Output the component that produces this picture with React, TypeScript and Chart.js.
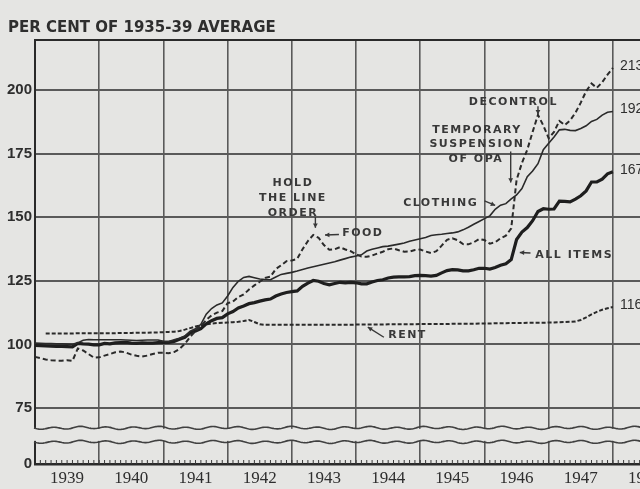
import React, { useEffect, useRef } from "react";
import { Chart, registerables } from "chart.js";

Chart.register(...registerables);

// ---------- data ----------
const YEARS = [1939, 1940, 1941, 1942, 1943, 1944, 1945, 1946, 1947, 1948];
const MONTH_COUNT = 115; // Jan 1939 .. Jul 1948 (axis extent)

const allItems = [
  99.6, 99.5, 99.4, 99.3, 99.2, 99.2, 99.1, 99.0, 100.4, 100.2, 100.1, 99.8,
  99.8, 100.4, 100.2, 100.6, 100.7, 100.8, 100.5, 100.4, 100.6, 100.5, 100.5, 100.7,
  100.8, 100.8, 101.2, 102.0, 102.8, 104.5, 105.3, 106.2, 108.1, 109.3, 110.2, 110.5,
  112.0, 112.9, 114.3, 115.1, 116.0, 116.4, 117.0, 117.5, 117.8, 119.0, 119.8, 120.4,
  120.7, 121.0, 122.8, 124.1, 125.1, 124.8, 123.9, 123.4, 123.9, 124.4, 124.2, 124.4,
  124.2, 123.8, 123.8, 124.5, 125.1, 125.4, 126.1, 126.4, 126.5, 126.5, 126.6, 127.0,
  127.1, 127.0, 126.8, 127.1, 128.1, 129.0, 129.4, 129.3, 128.9, 128.9, 129.3, 129.9,
  129.9, 129.6, 130.2, 131.1, 131.7, 133.3, 141.2, 144.1, 145.9, 148.6, 152.2, 153.3,
  153.1, 153.2, 156.3, 156.2, 156.0, 157.1, 158.4, 160.3, 163.8, 163.8, 164.9, 167.0,
  167.8,
];

const clothing = [
  100.5, 100.4, 100.3, 100.3, 100.2, 100.2, 100.1, 100.0, 100.6, 101.6, 101.9, 101.8,
  101.8, 101.8, 101.8, 101.8, 101.8, 101.7, 101.6, 101.5, 101.6, 101.7, 101.7, 101.7,
  101.2, 101.1, 101.8, 102.4, 103.3, 105.2, 106.1, 107.9, 111.9, 114.1, 115.5, 116.3,
  119.0, 122.4, 124.8, 126.3, 126.7, 126.2, 125.7, 125.5, 125.4, 126.5, 127.5, 127.9,
  128.3, 128.8, 129.4, 130.0, 130.5, 131.0, 131.5, 132.0, 132.5, 133.1, 133.7, 134.3,
  134.7, 135.2, 136.7, 137.4, 137.9, 138.4, 138.6, 139.0, 139.4, 139.8, 140.5, 141.0,
  141.5, 142.0, 142.8, 143.1, 143.3, 143.6, 143.8, 144.2, 145.0, 146.0, 147.2, 148.3,
  149.4, 150.5, 153.1, 154.7, 155.3, 157.2, 158.7, 161.2, 165.9, 168.1, 171.0, 176.5,
  179.0, 181.5, 184.3, 184.5, 184.1, 184.0, 184.8, 185.9, 187.6, 188.4, 190.1, 191.2,
  191.5,
];

const food = [
  95.1, 94.6, 94.1, 93.8, 93.6, 93.6, 93.8, 93.5, 98.4, 97.6, 96.2, 94.8,
  94.9, 95.6, 96.2, 96.9, 97.2, 96.8, 96.0, 95.5, 95.2, 95.6, 96.2, 96.7,
  96.7, 96.5, 97.0, 98.2, 100.2, 103.0, 105.3, 107.2, 109.6, 111.4, 112.5, 113.1,
  116.2, 116.8, 118.6, 119.6, 121.6, 123.2, 124.6, 126.1, 126.6, 129.6, 131.1, 132.7,
  133.0, 133.6, 137.4, 140.6, 143.0, 141.9, 139.0, 137.2, 137.4, 138.2, 137.3, 136.6,
  135.4, 134.5, 134.4, 134.9, 135.7, 136.4, 137.4, 137.7, 137.0, 136.4, 136.5, 137.1,
  137.3, 136.5, 135.9, 136.6, 138.8, 141.1, 141.7, 140.9, 139.4, 139.3, 140.1, 141.4,
  141.0, 139.6, 140.1, 141.7, 142.7, 145.6, 164.6, 171.3, 176.5, 183.5, 190.2, 186.0,
  181.0, 183.5, 187.8, 186.2, 188.0, 191.0, 195.0, 199.5, 202.5, 200.8, 203.0, 206.0,
  208.6,
];

const rent = [
  null, null, 104.3, 104.3, 104.3, 104.3, 104.3, 104.3, 104.4, 104.4, 104.4, 104.4,
  104.4, 104.4, 104.4, 104.4, 104.5, 104.5, 104.5, 104.6, 104.6, 104.6, 104.7, 104.7,
  104.8, 104.9, 105.0, 105.3, 105.8, 106.4, 107.0, 107.5, 107.9, 108.2, 108.4, 108.5,
  108.6, 108.7, 108.9, 109.2, 109.6, 108.8, 107.9, 107.7, 107.7, 107.7, 107.7, 107.7,
  107.7, 107.7, 107.7, 107.7, 107.7, 107.7, 107.7, 107.7, 107.7, 107.7, 107.7, 107.7,
  107.8, 107.8, 107.8, 107.8, 107.8, 107.8, 107.9, 107.9, 107.9, 107.9, 107.9, 107.9,
  108.0, 108.0, 108.0, 108.0, 108.0, 108.0, 108.1, 108.1, 108.1, 108.1, 108.1, 108.2,
  108.2, 108.2, 108.3, 108.3, 108.3, 108.4, 108.4, 108.4, 108.5, 108.5, 108.5, 108.5,
  108.6, 108.6, 108.7, 108.8, 108.9, 109.0, 109.6, 110.6, 111.8, 112.8, 113.6, 114.2,
  114.7,
];

const endLabels = ["213", "192", "167", "116"]; // food, clothing, all items, rent
const yTickValues = [75, 100, 125, 150, 175, 200];
const Y_ZERO = 53; // axis bottom, shown as "0" (broken axis)
const Y_TOP = 219.6;
const BREAK_HIGH = 67.2;
const BREAK_LOW = 61.7;
const TITLE = "PER CENT OF 1935-39 AVERAGE";

// annotations anchored in data space: month index, value
const notes = [
  { text: "HOLD", m: 48.2, v: 163.5, align: "center" },
  { text: "THE LINE", m: 48.2, v: 157.4, align: "center" },
  { text: "ORDER", m: 48.2, v: 151.5, align: "center" },
  { text: "FOOD", m: 57.4, v: 143.8, align: "left" },
  { text: "CLOTHING", m: 68.8, v: 155.6, align: "left" },
  { text: "DECONTROL", m: 89.4, v: 195.3, align: "center" },
  { text: "TEMPORARY", m: 82.6, v: 184.3, align: "center" },
  { text: "SUSPENSION", m: 82.6, v: 178.6, align: "center" },
  { text: "OF OPA", m: 82.4, v: 172.7, align: "center" },
  { text: "ALL ITEMS", m: 93.5, v: 135.2, align: "left" },
  { text: "RENT", m: 66.0, v: 103.7, align: "left" },
];

const arrows = [
  { from: [52.4, 150.0], to: [52.4, 145.8] },
  { from: [56.8, 143.2], to: [54.2, 143.0] },
  { from: [84.0, 156.4], to: [86.0, 154.6] },
  { from: [94.0, 193.6], to: [94.0, 190.4] },
  { from: [88.9, 175.8], to: [88.9, 163.6] },
  { from: [92.6, 135.9], to: [90.6, 136.1] },
  { from: [65.2, 102.8], to: [62.2, 106.8] },
];

// ---------- styling ----------
const PAPER = "#e5e5e3";
const INK = "#2a2a2a";
const GRID = "#5a5a5a";
const TEXT = "#2e2e2e";

const labels: string[] = [];
for (let i = 0; i < MONTH_COUNT; i++) {
  const y = YEARS[Math.floor(i / 12)];
  labels.push(`${y}-${String((i % 12) + 1).padStart(2, "0")}`);
}

function drawArrow(ctx: CanvasRenderingContext2D, x1: number, y1: number, x2: number, y2: number) {
  ctx.beginPath();
  ctx.moveTo(x1, y1);
  ctx.lineTo(x2, y2);
  ctx.stroke();
  const ang = Math.atan2(y2 - y1, x2 - x1);
  const h = 5;
  ctx.beginPath();
  ctx.moveTo(x2, y2);
  ctx.lineTo(x2 - h * Math.cos(ang - 0.5), y2 - h * Math.sin(ang - 0.5));
  ctx.lineTo(x2 - h * Math.cos(ang + 0.5), y2 - h * Math.sin(ang + 0.5));
  ctx.closePath();
  ctx.fill();
}

function wavy(ctx: CanvasRenderingContext2D, x0: number, x1: number, y: number) {
  ctx.beginPath();
  for (let x = x0; x <= x1; x += 1) {
    const yy = y + 1.1 * Math.sin((x - x0) / 4.2) + 0.5 * Math.sin((x - x0) / 11);
    if (x === x0) ctx.moveTo(x, yy);
    else ctx.lineTo(x, yy);
  }
  ctx.stroke();
}

const paperPlugin = {
  id: "paper",
  beforeDraw(chart: any) {
    const { ctx, width, height } = chart;
    ctx.save();
    ctx.fillStyle = PAPER;
    ctx.fillRect(0, 0, width, height);
    ctx.restore();
  },
  beforeDatasetsDraw(chart: any) {
    const { ctx, chartArea, scales } = chart;
    const { left, right, top, bottom } = chartArea;
    const xs = scales.x;
    const ys = scales.y;
    ctx.save();
    // top frame line
    ctx.strokeStyle = INK;
    ctx.lineWidth = 2;
    ctx.beginPath();
    ctx.moveTo(left - 1, top);
    ctx.lineTo(right, top);
    ctx.stroke();
    // monthly tick marks on the base line
    ctx.lineWidth = 1;
    ctx.strokeStyle = "#3a3a3a";
    for (let i = 1; i < MONTH_COUNT; i++) {
      const px = xs.getPixelForValue(i);
      ctx.beginPath();
      ctx.moveTo(px, bottom - 4);
      ctx.lineTo(px, bottom);
      ctx.stroke();
    }
    // scale break
    const yA = ys.getPixelForValue(BREAK_HIGH);
    const yB = ys.getPixelForValue(BREAK_LOW);
    ctx.fillStyle = PAPER;
    ctx.fillRect(left - 4, yA + 1, right - left + 8, yB - yA - 2);
    ctx.strokeStyle = "#404040";
    ctx.lineWidth = 1.6;
    wavy(ctx, left - 1, right, yA);
    wavy(ctx, left - 1, right, yB);
    ctx.restore();
  },
  afterDatasetsDraw(chart: any) {
    const { ctx, scales } = chart;
    const xs = scales.x;
    const ys = scales.y;
    ctx.save();
    // title
    ctx.fillStyle = TEXT;
    ctx.font = 'bold 15px "DejaVu Sans"';
    ctx.textAlign = "left";
    ctx.textBaseline = "middle";
    ctx.fillText(TITLE, 8, 28);

    // annotations
    ctx.font = 'bold 11px "DejaVu Sans"';
    (ctx as any).letterSpacing = "1.5px";
    ctx.fillStyle = "#383838";
    for (const n of notes) {
      ctx.textAlign = n.align as CanvasTextAlign;
      ctx.fillText(n.text, xs.getPixelForValue(n.m), ys.getPixelForValue(n.v));
    }
    (ctx as any).letterSpacing = "0px";
    ctx.strokeStyle = "#383838";
    ctx.lineWidth = 1.4;
    for (const a of arrows) {
      drawArrow(
        ctx,
        xs.getPixelForValue(a.from[0]),
        ys.getPixelForValue(a.from[1]),
        xs.getPixelForValue(a.to[0]),
        ys.getPixelForValue(a.to[1])
      );
    }

    // end-of-line value labels
    ctx.font = '14px "Liberation Sans"';
    ctx.textAlign = "left";
    ctx.fillStyle = TEXT;
    const series = [food, clothing, allItems, rent];
    series.forEach((s, k) => {
      const last = s.length - 1;
      const px = xs.getPixelForValue(last) + 7;
      const py = ys.getPixelForValue(s[last] as number) - 2;
      ctx.fillText(endLabels[k], px, py);
    });
    ctx.restore();
  },
};

export default function App() {
  const ref = useRef<HTMLCanvasElement | null>(null);

  useEffect(() => {
    if (!ref.current) return;
    const chart = new Chart(ref.current, {
      type: "line",
      data: {
        labels,
        datasets: [
          {
            label: "Food",
            data: food,
            borderColor: INK,
            borderWidth: 2,
            borderDash: [5, 3],
            pointRadius: 0,
            tension: 0,
          },
          {
            label: "Clothing",
            data: clothing,
            borderColor: INK,
            borderWidth: 1.6,
            pointRadius: 0,
            tension: 0,
          },
          {
            label: "All items",
            data: allItems,
            borderColor: "#1e1e1e",
            borderWidth: 3.2,
            pointRadius: 0,
            tension: 0,
          },
          {
            label: "Rent",
            data: rent,
            borderColor: INK,
            borderWidth: 2,
            borderDash: [4, 2],
            pointRadius: 0,
            tension: 0,
          },
        ],
      },
      options: {
        responsive: false,
        animation: false,
        events: [],
        layout: { padding: { top: 40, right: 35, bottom: 0, left: 0 } },
        plugins: {
          legend: { display: false },
          tooltip: { enabled: false },
          title: { display: false },
        },
        scales: {
          x: {
            type: "category",
            offset: false,
            grid: {
              color: (c: any) => (c.index % 12 === 0 && c.index > 0 ? GRID : "transparent"),
              lineWidth: 1.6,
              drawTicks: false,
            },
            border: { display: true, color: INK, width: 2.5 },
            ticks: {
              autoSkip: false,
              maxRotation: 0,
              minRotation: 0,
              padding: 4,
              color: TEXT,
              font: { family: '"Liberation Serif"', size: 17 },
              callback: (_v: any, i: number) =>
                i % 12 === 6 ? String(YEARS[Math.floor(i / 12)]) : "",
            },
            afterFit: (s: any) => {
              s.height = 25;
            },
          },
          y: {
            min: Y_ZERO,
            max: Y_TOP,
            afterBuildTicks: (s: any) => {
              s.ticks = [Y_ZERO, ...yTickValues].map((v) => ({ value: v }));
            },
            ticks: {
              padding: 3,
              color: TEXT,
              font: { family: '"Liberation Sans"', size: 15, weight: "bold" },
              callback: (v: any) => (v === Y_ZERO ? "0" : String(v)),
            },
            grid: {
              color: (c: any) => (c.tick && c.tick.value === Y_ZERO ? "transparent" : GRID),
              lineWidth: 2,
              drawTicks: false,
            },
            border: { display: true, color: INK, width: 2 },
            afterFit: (s: any) => {
              s.width = 35;
            },
          },
        },
      },
      plugins: [paperPlugin],
    });
    return () => chart.destroy();
  }, []);

  return (
    <div
      style={{
        position: "fixed",
        left: 0,
        top: 0,
        width: 640,
        height: 489,
        overflow: "hidden",
        background: PAPER,
      }}
    >
      <canvas
        ref={ref}
        width={680}
        height={489}
        style={{ position: "absolute", left: 0, top: 0, width: 680, height: 489 }}
      />
    </div>
  );
}
